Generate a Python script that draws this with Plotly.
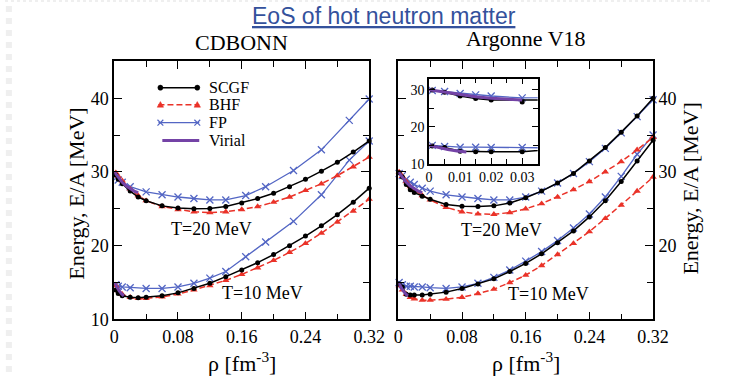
import plotly.graph_objects as go

# ---------------- data ----------------
# CDBONN panel
X_CD = [0.002, 0.005, 0.01, 0.02, 0.03, 0.04, 0.06, 0.08, 0.10, 0.12, 0.14,
        0.16, 0.18, 0.20, 0.22, 0.24, 0.26, 0.28, 0.30, 0.32]
CD_SCGF_T20 = [29.6, 29.0, 28.4, 27.4, 26.6, 26.1, 25.4, 25.1, 25.0, 25.05, 25.3,
               25.8, 26.4, 27.1, 28.0, 29.0, 30.1, 31.3, 32.7, 34.2]
CD_BHF_T20 = [29.9, 29.4, 28.8, 27.7, 26.8, 26.1, 25.3, 24.9, 24.6, 24.5, 24.6,
              24.9, 25.3, 25.9, 26.6, 27.5, 28.4, 29.5, 30.7, 32.0]
CD_SCGF_T10 = [14.0, 13.5, 13.2, 13.0, 12.95, 13.0, 13.2, 13.6, 14.2, 14.9, 15.8,
               16.7, 17.7, 18.8, 20.0, 21.3, 22.7, 24.2, 25.9, 27.8]
CD_BHF_T10 = [14.6, 13.9, 13.4, 13.0, 12.85, 12.85, 13.05, 13.45, 14.0, 14.6, 15.3,
              16.1, 17.0, 18.0, 19.1, 20.3, 21.7, 23.2, 24.7, 26.3]
X_CD_FP = [0.002, 0.005, 0.01, 0.02, 0.04, 0.06, 0.08, 0.10, 0.12, 0.14, 0.165,
           0.19, 0.225, 0.26, 0.295, 0.32]
CD_FP_T20 = [29.2, 28.9, 28.6, 28.0, 27.3, 26.9, 26.6, 26.4, 26.2, 26.2, 26.8,
             28.0, 30.2, 33.0, 37.0, 39.9]
CD_FP_T10 = [14.7, 14.5, 14.4, 14.3, 14.2, 14.2, 14.4, 14.9, 15.6, 16.5, 18.5,
             20.5, 23.3, 26.9, 31.6, 34.2]

# Argonne V18 panel (also shown in the inset)
X_AV = [0.001, 0.005, 0.01, 0.015, 0.02, 0.03, 0.04, 0.06, 0.08, 0.10, 0.12,
        0.14, 0.16, 0.18, 0.20, 0.22, 0.24, 0.26, 0.28, 0.30, 0.32]
AV_SCGF_T20 = [29.9, 29.3, 28.3, 27.6, 27.2, 26.7, 26.3, 25.6, 25.35, 25.3, 25.4,
               25.8, 26.5, 27.4, 28.5, 29.8, 31.5, 33.3, 35.4, 37.6, 40.0]
AV_BHF_T20 = [30.0, 29.4, 28.7, 28.0, 27.5, 26.8, 26.2, 25.2, 24.6, 24.3, 24.25,
              24.5, 25.0, 25.7, 26.6, 27.6, 28.7, 30.0, 31.4, 33.0, 34.7]
AV_FP_T20 = [29.8, 29.5, 29.0, 28.6, 28.3, 27.8, 27.4, 26.9, 26.6, 26.4, 26.2,
             26.2, 26.6, 27.4, 28.5, 29.8, 31.4, 33.2, 35.3, 37.5, 39.8]
AV_SCGF_T10 = [14.8, 14.4, 13.4, 13.3, 13.3, 13.3, 13.4, 13.7, 14.2, 14.8, 15.5,
               16.5, 17.6, 18.9, 20.4, 22.0, 23.9, 26.1, 28.7, 31.5, 34.3]
AV_BHF_T10 = [14.6, 14.0, 13.4, 13.0, 12.8, 12.6, 12.6, 12.75, 13.0, 13.5, 14.1,
              15.0, 16.0, 17.3, 18.8, 20.3, 21.9, 23.7, 25.5, 27.4, 29.3]
AV_FP_T10 = [15.0, 14.7, 14.5, 14.5, 14.4, 14.4, 14.3, 14.2, 14.4, 14.9, 15.7,
             16.7, 17.9, 19.2, 20.7, 22.4, 24.3, 26.6, 29.4, 32.4, 35.0]

# Virial (low density)
X_VIR_T20 = [0.0, 0.005, 0.01, 0.015, 0.02, 0.025, 0.03]
VIR_T20 = [30.0, 29.3, 28.6, 28.1, 27.7, 27.4, 27.2]
X_VIR_T10 = [0.0, 0.003, 0.006, 0.009, 0.012]
VIR_T10 = [15.0, 14.4, 13.9, 13.5, 13.2]

X_TICKS = [0, 0.08, 0.16, 0.24, 0.32]
X_TICKTEXT = ["0", "0.08", "0.16", "0.24", "0.32"]
Y_TICKS = [10, 20, 30, 40]
INSET_X_TICKS = [0, 0.01, 0.02, 0.03]
INSET_X_TICKTEXT = ["0", "0.01", "0.02", "0.03"]
INSET_Y_TICKS = [10, 20, 30]
LEGEND_NAMES = ["SCGF", "BHF", "FP", "Virial"]

# ---------------- styling ----------------
W, H = 729, 382
def px(x): return x / W
def py(y): return 1 - y / H

RED = "#ea3228"
BLUE = "#5366c4"
PURPLE = "#7443a6"
SERIF = "'Liberation Serif', 'Times New Roman', Times, serif"
SANS = "'Liberation Sans', Arial, sans-serif"

STY = {
    "SCGF": dict(mode="lines+markers", line=dict(color="black", width=1.5),
                 marker=dict(symbol="circle", size=5, color="black")),
    "BHF": dict(mode="lines+markers", line=dict(color=RED, width=1.5, dash="6px,3px"),
                marker=dict(symbol="triangle-up", size=6.5, color=RED)),
    "FP": dict(mode="lines+markers", line=dict(color=BLUE, width=1.3),
               marker=dict(symbol="x-thin", size=7, line=dict(color=BLUE, width=1.3))),
    "Virial": dict(mode="lines", line=dict(color=PURPLE, width=3)),
}

fig = go.Figure()

def add(x, y, kind, xa, ya, clip):
    fig.add_trace(go.Scatter(x=x, y=y, name=kind, showlegend=False,
                             xaxis=xa, yaxis=ya, cliponaxis=clip, **STY[kind]))

# CDBONN
for xs, ys in [(X_CD_FP, CD_FP_T20), (X_CD_FP, CD_FP_T10)]:
    add(xs, ys, "FP", "x", "y", False)
for ys in [CD_BHF_T20, CD_BHF_T10]:
    add(X_CD, ys, "BHF", "x", "y", False)
for ys in [CD_SCGF_T20, CD_SCGF_T10]:
    add(X_CD, ys, "SCGF", "x", "y", False)
add(X_VIR_T20, VIR_T20, "Virial", "x", "y", False)
add(X_VIR_T10, VIR_T10, "Virial", "x", "y", False)

# Argonne V18 main panel
for ys in [AV_FP_T20, AV_FP_T10]:
    add(X_AV, ys, "FP", "x2", "y2", False)
for ys in [AV_BHF_T20, AV_BHF_T10]:
    add(X_AV, ys, "BHF", "x2", "y2", False)
for ys in [AV_SCGF_T20, AV_SCGF_T10]:
    add(X_AV, ys, "SCGF", "x2", "y2", False)
add(X_VIR_T20, VIR_T20, "Virial", "x2", "y2", False)
add(X_VIR_T10, VIR_T10, "Virial", "x2", "y2", False)

# inset: low-density zoom (SCGF, FP, virial)
for ys in [AV_FP_T20, AV_FP_T10]:
    add(X_AV, ys, "FP", "x3", "y3", True)
for ys in [AV_SCGF_T20, AV_SCGF_T10]:
    add(X_AV, ys, "SCGF", "x3", "y3", True)
add(X_VIR_T20, VIR_T20, "Virial", "x3", "y3", True)
add(X_VIR_T10, VIR_T10, "Virial", "x3", "y3", True)

def axis(**kw):
    d = dict(showline=True, linecolor="black", linewidth=1.6, mirror="allticks",
             ticks="inside", ticklen=8, tickwidth=1.3, tickcolor="black",
             showgrid=False, zeroline=False, fixedrange=True,
             tickfont=dict(family=SERIF, size=18, color="black"))
    d.update(kw)
    return d

def minor(dt, ln=6):
    return dict(dtick=dt, tick0=0, ticks="inside", ticklen=ln, tickwidth=1.3,
                tickcolor="black", showgrid=False)

XDOM1 = [px(112.5), px(375)]
XDOM2 = [px(405), px(667.3)]
YDOM = [py(328), py(63)]

fig.update_layout(
    width=W, height=H, margin=dict(l=0, r=0, t=0, b=0),
    paper_bgcolor="white", plot_bgcolor="white", showlegend=False,
    font=dict(family=SERIF, color="black"),
    xaxis=axis(domain=XDOM1, range=[0, 0.32], anchor="y", tickmode="array",
               tickvals=X_TICKS, ticktext=X_TICKTEXT, minor=minor(0.04)),
    yaxis=axis(domain=YDOM, range=[10, 45], anchor="x", tickmode="array",
               tickvals=Y_TICKS, minor=minor(5)),
    xaxis2=axis(domain=XDOM2, range=[0, 0.32], anchor="y2", tickmode="array",
                tickvals=X_TICKS, ticktext=X_TICKTEXT, minor=minor(0.04)),
    yaxis2=axis(domain=YDOM, range=[10, 45], anchor="x2", side="right",
                tickmode="array", tickvals=Y_TICKS[1:], ticktext=["20", "30", "40"],
                minor=minor(5)),
    xaxis3=axis(domain=[px(436.7), px(548.5)], range=[0, 0.035], anchor="y3",
                tickmode="array", tickvals=INSET_X_TICKS, ticktext=INSET_X_TICKTEXT,
                ticklen=6, tickfont=dict(family=SERIF, size=14, color="black"),
                minor=minor(0.005, 5)),
    yaxis3=axis(domain=[py(168.3), py(80.7)], range=[10, 33], anchor="x3",
                tickmode="array", tickvals=INSET_Y_TICKS, ticklen=6,
                tickfont=dict(family=SERIF, size=14, color="black"),
                minor=minor(5, 5)),
)

ann = []
def text(t, x, y, size, family=SERIF, color="black", angle=0, xanchor="center",
         xref="paper", yref="paper"):
    ann.append(dict(text=t, x=x, y=y, xref=xref, yref=yref, showarrow=False,
                    xanchor=xanchor, yanchor="middle", textangle=angle,
                    font=dict(family=family, size=size, color=color)))

text("<u>EoS of hot neutron matter</u>", px(390), py(16), 23,
     family=SANS, color="#34519c")
text("CDBONN", px(243.7), py(44), 22)
text("Argonne V18", px(536), py(40), 22)
text("Energy, E/A [MeV]", px(74), py(199), 22, angle=-90)
text("Energy, E/A [MeV]", px(706), py(194), 22, angle=-90)
text("ρ [fm<sup>-3</sup>]", px(244), py(372), 22)
text("ρ [fm<sup>-3</sup>]", px(536), py(372), 22)
text("T=20 MeV", 0.122, 22.2, 18, xref="x", yref="y")
text("T=10 MeV", 0.186, 13.6, 18, xref="x", yref="y")
text("T=20 MeV", 0.130, 22.1, 18, xref="x2", yref="y2")
text("T=10 MeV", 0.189, 13.5, 18, xref="x2", yref="y2")

# manual legend (rows tightly spaced as in the reference)
shapes = []
rows = [90, 107.5, 126, 144.3]
lx0, lx1 = 158, 200
for name, ry in zip(LEGEND_NAMES, rows):
    st = STY[name]
    shapes.append(dict(type="line", xref="paper", yref="paper",
                       x0=px(lx0 if name != "Virial" else 162), x1=px(lx1),
                       y0=py(ry), y1=py(ry),
                       line=dict(color=st["line"]["color"], width=st["line"]["width"],
                                 dash=st["line"].get("dash", "solid"))))
    for cx in (lx0 + 2, lx1 - 2):
        if name == "SCGF":
            shapes.append(dict(type="circle", xref="paper", yref="paper",
                               x0=px(cx - 2.6), x1=px(cx + 2.6), y0=py(ry + 2.6),
                               y1=py(ry - 2.6), fillcolor="black",
                               line=dict(color="black", width=0.5)))
        elif name == "BHF":
            path = (f"M {px(cx - 3.3)},{py(ry + 2.6)} L {px(cx + 3.3)},{py(ry + 2.6)} "
                    f"L {px(cx)},{py(ry - 3.2)} Z")
            shapes.append(dict(type="path", xref="paper", yref="paper", path=path,
                               fillcolor=RED, line=dict(color=RED, width=0.5)))
        elif name == "FP":
            path = (f"M {px(cx - 3)},{py(ry - 3)} L {px(cx + 3)},{py(ry + 3)} "
                    f"M {px(cx - 3)},{py(ry + 3)} L {px(cx + 3)},{py(ry - 3)}")
            shapes.append(dict(type="path", xref="paper", yref="paper", path=path,
                               line=dict(color=BLUE, width=1.2)))
    text(name, px(208), py(ry), 16, xanchor="left")

# faint slide decoration at the edges
shapes.append(dict(type="line", xref="paper", yref="paper", x0=px(4), x1=px(4),
                   y0=0, y1=1, line=dict(color="#efefef", width=6, dash="dot")))
shapes.append(dict(type="line", xref="paper", yref="paper", x0=0, x1=1,
                   y0=py(1), y1=py(1), line=dict(color="#efefef", width=2, dash="dot")))

fig.update_layout(annotations=ann, shapes=shapes)
fig.write_html("out.html")
